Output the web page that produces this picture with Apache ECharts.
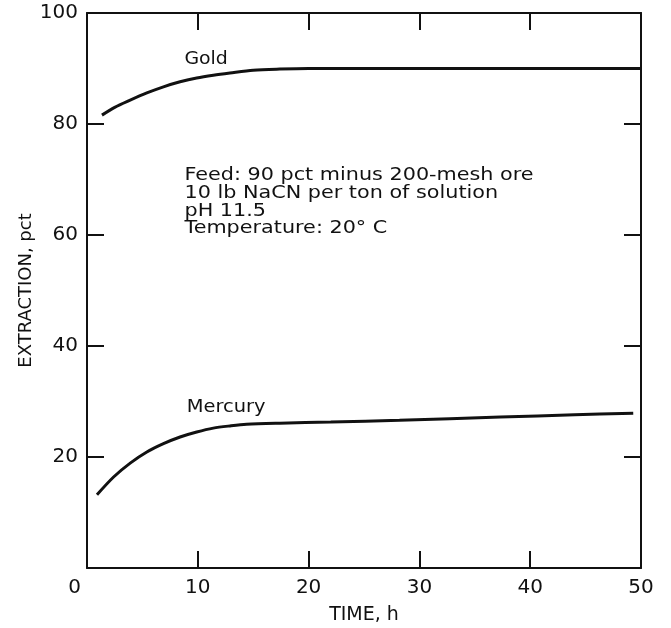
<!DOCTYPE html>
<html>
<head>
<meta charset="utf-8">
<script src="https://cdn.jsdelivr.net/npm/echarts@6/dist/echarts.min.js"></script>
<style>
  html, body { margin: 0; padding: 0; background: #fff; }
  #main { width: 671px; height: 628px; }
</style>
</head>
<body>
<div id="main"></div>
<script>
// values
const goldTime = [1.35, 2.5, 3.9, 5.4, 6.9, 8.4, 9.9, 11.4, 12.9, 15, 17.4, 20, 30, 40, 50];
const goldPct = [81.6, 83.0, 84.3, 85.6, 86.7, 87.6, 88.3, 88.8, 89.2, 89.7, 89.9, 90, 90, 90, 90];
const mercuryTime = [0.9, 2.4, 3.9, 5.4, 6.9, 8.4, 9.9, 11.4, 12.9, 14.4, 17.4, 22, 28.2, 37.3, 44, 49.3];
const mercuryPct = [13.2, 16.4, 18.9, 20.9, 22.4, 23.6, 24.5, 25.2, 25.6, 25.9, 26.1, 26.3, 26.6, 27.2, 27.6, 27.9];

const xRange = [0, 50, 10];   // min, max, step (TIME, h)
const yRange = [0, 100, 20];  // min, max, step (EXTRACTION, pct)

const notes = [
  'Feed: 90 pct minus 200-mesh ore',
  '10 lb NaCN per ton of solution',
  'pH 11.5',
  'Temperature: 20° C'
];

const FONT = '"DejaVu Sans", sans-serif';
const INK = '#111';

const zip = (xs, ys) => xs.map((x, i) => [x, ys[i]]);

const frameAxis = {
  axisLine: { show: true, onZero: false, lineStyle: { color: INK, width: 2 } },
  axisTick: { show: true, inside: true, length: 17, lineStyle: { color: INK, width: 2 } },
  splitLine: { show: false }
};

const chart = echarts.init(document.getElementById('main'));

chart.setOption({
  animation: false,
  backgroundColor: '#fff',
  grid: { left: 87, right: 30, top: 13, bottom: 60, outerBoundsMode: 'none' },
  xAxis: [
    Object.assign({
      type: 'value', position: 'bottom',
      min: xRange[0], max: xRange[1], interval: xRange[2],
      name: 'TIME, h', nameLocation: 'middle', nameGap: 38, nameMoveOverlap: false,
      nameTextStyle: { fontFamily: FONT, fontSize: 19, color: INK },
      axisLabel: {
        margin: 10, fontFamily: FONT, fontSize: 20, color: INK,
        alignMinLabel: 'right',
        formatter: v => v === 0 ? '{z|0}' : String(v),
        rich: { z: { fontFamily: FONT, fontSize: 20, color: INK, padding: [0, 6, 0, 0] } }
      }
    }, frameAxis),
    Object.assign({
      type: 'value', position: 'top',
      min: xRange[0], max: xRange[1], interval: xRange[2],
      axisLabel: { show: false }
    }, frameAxis)
  ],
  yAxis: [
    Object.assign({
      type: 'value', position: 'left',
      min: yRange[0], max: yRange[1], interval: yRange[2],
      name: 'EXTRACTION, pct', nameLocation: 'middle', nameGap: 52, nameMoveOverlap: false,
      nameTextStyle: { fontFamily: FONT, fontSize: 18, color: INK },
      axisLabel: {
        margin: 9, fontFamily: FONT, fontSize: 20, color: INK,
        formatter: v => v === 0 ? '' : String(v)
      }
    }, frameAxis),
    Object.assign({
      type: 'value', position: 'right',
      min: yRange[0], max: yRange[1], interval: yRange[2],
      axisLabel: { show: false }
    }, frameAxis)
  ],
  series: [
    {
      name: 'Gold', type: 'line', data: zip(goldTime, goldPct),
      showSymbol: false, smooth: 0.3,
      lineStyle: { color: INK, width: 3 }
    },
    {
      name: 'Mercury', type: 'line', data: zip(mercuryTime, mercuryPct),
      showSymbol: false, smooth: 0.3,
      lineStyle: { color: INK, width: 3 }
    }
  ]
});

// place the annotations in data coordinates
const px = p => chart.convertToPixel({ seriesIndex: 0 }, p);
const goldAt = px([10.75, 91.7]);
const mercAt = px([12.55, 28.9]);
const noteAt = px([8.8, 72.3]);

chart.setOption({
  graphic: [
    {
      type: 'text', x: goldAt[0], y: goldAt[1], scaleX: 1.05,
      style: { text: 'Gold', fontFamily: FONT, fontSize: 18, fill: INK, align: 'center', verticalAlign: 'middle' }
    },
    {
      type: 'text', x: mercAt[0], y: mercAt[1], scaleX: 1.08,
      style: { text: 'Mercury', fontFamily: FONT, fontSize: 18, fill: INK, align: 'center', verticalAlign: 'middle' }
    },
    {
      type: 'text', x: noteAt[0], y: noteAt[1], scaleX: 1.22,
      style: {
        text: notes.join('\n'), fontFamily: FONT, fontSize: 17, lineHeight: 17.8,
        fill: INK, align: 'left', verticalAlign: 'top'
      }
    }
  ]
});
</script>
</body>
</html>
